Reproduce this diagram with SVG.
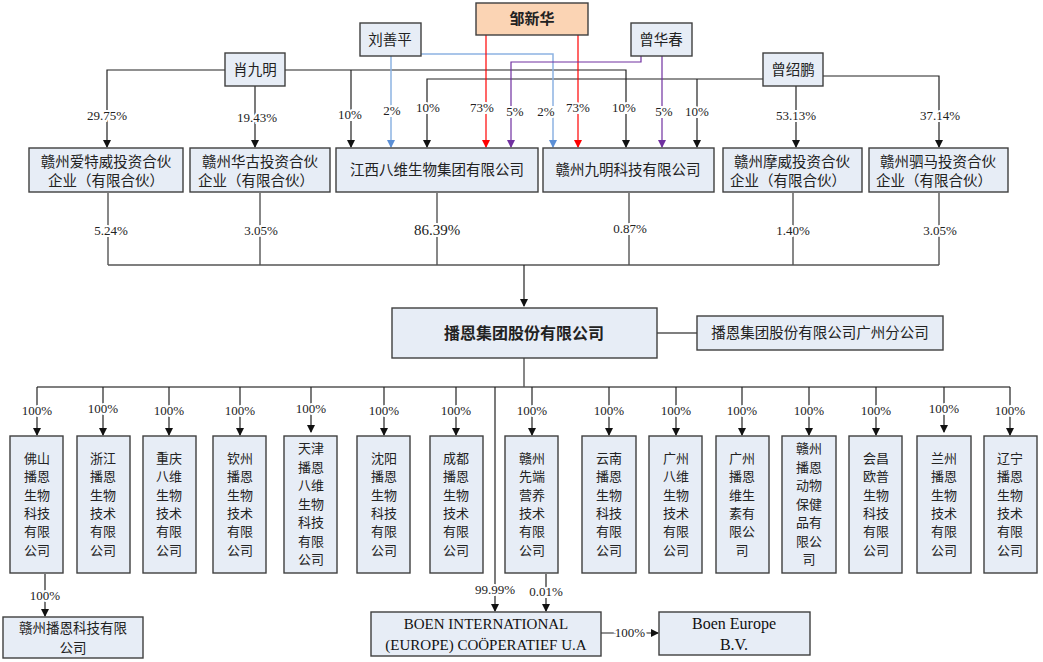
<svg xmlns="http://www.w3.org/2000/svg" width="1043" height="662" viewBox="0 0 1043 662">
<style>
.b{fill:#E7EDF6;stroke:#3F3F3F;stroke-width:1.4}
.t{font-family:"Noto Sans CJK SC",sans-serif;font-size:14.5px;fill:#222;text-anchor:middle}
.v{font-family:"Noto Sans CJK SC",sans-serif;font-size:13px;fill:#222;text-anchor:middle}
.p{font-family:"Liberation Serif",serif;font-size:13px;fill:#222;text-anchor:middle;stroke:#fff;stroke-width:4;paint-order:stroke}
.e{font-family:"Liberation Serif",serif;font-size:15px;fill:#111;text-anchor:middle}
.k{fill:none;stroke:#222;stroke-width:1.2}
.g{fill:none;stroke:#555;stroke-width:1.4}
</style>
<defs>
<marker id="ak" markerWidth="8" markerHeight="8" refX="7" refY="4" orient="auto" markerUnits="userSpaceOnUse"><path d="M0,0 L8,4 L0,8z" fill="#111"/></marker>
<marker id="ab" markerWidth="8" markerHeight="8" refX="7" refY="4" orient="auto" markerUnits="userSpaceOnUse"><path d="M0,0 L8,4 L0,8z" fill="#5B8FD6"/></marker>
<marker id="ar" markerWidth="8" markerHeight="8" refX="7" refY="4" orient="auto" markerUnits="userSpaceOnUse"><path d="M0,0 L8,4 L0,8z" fill="#FF0000"/></marker>
<marker id="ap" markerWidth="8" markerHeight="8" refX="7" refY="4" orient="auto" markerUnits="userSpaceOnUse"><path d="M0,0 L8,4 L0,8z" fill="#7030A0"/></marker>
</defs>
<g id="connectors">
<path class="k" d="M225,70 H107 V147" marker-end="url(#ak)"/>
<path class="k" d="M255,86 V147" marker-end="url(#ak)"/>
<path class="k" d="M285,70 H626 V147" marker-end="url(#ak)"/>
<path class="k" d="M351,70 V147" marker-end="url(#ak)"/>
<path class="k" d="M763,79 H427 V147" marker-end="url(#ak)"/>
<path class="k" d="M697,79 V147" marker-end="url(#ak)"/>
<path class="k" d="M796,86 V147" marker-end="url(#ak)"/>
<path class="k" d="M823,76 H939 V147" marker-end="url(#ak)"/>
<path d="M391,56 V147" stroke="#8DB3E2" stroke-width="1.5" fill="none" marker-end="url(#ab)"/>
<path d="M421,54 H553 V147" stroke="#8DB3E2" stroke-width="1.5" fill="none" marker-end="url(#ab)"/>
<path d="M486,35 V147" stroke="#FF0000" stroke-width="1.2" fill="none" marker-end="url(#ar)"/>
<path d="M578,35 V147" stroke="#FF0000" stroke-width="1.2" fill="none" marker-end="url(#ar)"/>
<path d="M641,56 V62 H511 V147" stroke="#7030A0" stroke-width="1.2" fill="none" marker-end="url(#ap)"/>
<path d="M662,56 V147" stroke="#7030A0" stroke-width="1.2" fill="none" marker-end="url(#ap)"/>
<path class="g" d="M108,193 V265 M260,193 V265 M437,193 V265 M629,193 V265 M793,193 V265 M939,193 V265 M108,265 H939"/>
<path class="k" d="M524,265 V306" marker-end="url(#ak)"/>
<path class="g" d="M657,333 H697"/>
<path class="g" d="M524,358 V387 M37,387 H1010"/>
<g marker-end="url(#ak)" class="k">
<path d="M37,387 V435"/><path d="M103,387 V435"/><path d="M169,387 V435"/><path d="M240,387 V435"/><path d="M311,387 V432"/><path d="M384,387 V435"/><path d="M456,387 V435"/><path d="M532,387 V435"/><path d="M609,387 V435"/><path d="M676,387 V435"/><path d="M742,387 V435"/><path d="M809,387 V435"/><path d="M876,387 V435"/><path d="M944,387 V432"/><path d="M1010,387 V435"/>
<path d="M45,574 V616"/>
<path d="M495,387 V611"/>
<path d="M546,574 V611"/>
<path d="M601,633 H658"/>
</g>
</g>
<g id="labels">
<text class="p" x="107" y="120">29.75%</text>
<text class="p" x="257" y="122">19.43%</text>
<text class="p" x="350" y="119">10%</text>
<text class="p" x="392" y="115">2%</text>
<text class="p" x="428" y="112">10%</text>
<text class="p" x="482" y="112">73%</text>
<text class="p" x="515" y="116">5%</text>
<text class="p" x="546" y="116">2%</text>
<text class="p" x="578" y="112">73%</text>
<text class="p" x="624" y="112">10%</text>
<text class="p" x="664" y="116">5%</text>
<text class="p" x="697" y="116">10%</text>
<text class="p" x="796" y="120">53.13%</text>
<text class="p" x="940" y="120">37.14%</text>
<text class="p" x="111" y="235">5.24%</text>
<text class="p" x="261" y="235">3.05%</text>
<text class="p" x="437" y="235" style="font-size:15px">86.39%</text>
<text class="p" x="630" y="233">0.87%</text>
<text class="p" x="793" y="235">1.40%</text>
<text class="p" x="940" y="235">3.05%</text>
<text class="p" x="37" y="415">100%</text><text class="p" x="103" y="413">100%</text><text class="p" x="169" y="415">100%</text><text class="p" x="240" y="415">100%</text><text class="p" x="311" y="413">100%</text><text class="p" x="384" y="415">100%</text><text class="p" x="456" y="415">100%</text><text class="p" x="532" y="415">100%</text><text class="p" x="609" y="415">100%</text><text class="p" x="676" y="415">100%</text><text class="p" x="742" y="415">100%</text><text class="p" x="809" y="415">100%</text><text class="p" x="876" y="415">100%</text><text class="p" x="944" y="413">100%</text><text class="p" x="1010" y="415">100%</text>
<text class="p" x="45" y="600">100%</text>
<text class="p" x="495" y="594">99.99%</text>
<text class="p" x="546" y="596">0.01%</text>
<text class="p" x="630" y="637">100%</text>
</g>
<g id="n-zou"><rect x="476" y="3" width="112" height="32" fill="#FBD4B4" stroke="#3F3F3F" stroke-width="1.4"/><text class="t" x="532" y="24" style="font-weight:bold;font-size:15px">邹新华</text></g>
<g id="n-liu"><rect class="b" x="360" y="23" width="61" height="33"/><text class="t" x="390" y="45">刘善平</text></g>
<g id="n-zenghc"><rect class="b" x="631" y="23" width="61" height="33"/><text class="t" x="661" y="45">曾华春</text></g>
<g id="n-xiao"><rect class="b" x="225" y="53" width="60" height="33"/><text class="t" x="255" y="75">肖九明</text></g>
<g id="n-zengsp"><rect class="b" x="763" y="53" width="60" height="33"/><text class="t" x="793" y="75">曾绍鹏</text></g>
<g id="n-aitewei"><rect class="b" x="29" y="148" width="154" height="44"/><text class="t" x="106" y="167">赣州爱特威投资合伙</text><text class="t" x="106" y="186">企业（有限合伙）</text></g>
<g id="n-huagu"><rect class="b" x="190" y="148" width="140" height="44"/><text class="t" x="260" y="167">赣州华古投资合伙</text><text class="t" x="256" y="186">企业（有限合伙）</text></g>
<g id="n-bawei"><rect class="b" x="336" y="148" width="202" height="44"/><text class="t" x="437" y="175">江西八维生物集团有限公司</text></g>
<g id="n-jiuming"><rect class="b" x="543" y="148" width="171" height="44"/><text class="t" x="628" y="175">赣州九明科技有限公司</text></g>
<g id="n-mowei"><rect class="b" x="723" y="148" width="139" height="44"/><text class="t" x="792" y="167">赣州摩威投资合伙</text><text class="t" x="788" y="186">企业（有限合伙）</text></g>
<g id="n-sima"><rect class="b" x="869" y="148" width="139" height="44"/><text class="t" x="938" y="167">赣州驷马投资合伙</text><text class="t" x="934" y="186">企业（有限合伙）</text></g>
<g id="n-boen"><rect class="b" x="392" y="308" width="265" height="50"/><text class="t" x="524" y="339" style="font-weight:bold;font-size:16px">播恩集团股份有限公司</text></g>
<g id="n-gz"><rect class="b" x="697" y="316" width="246" height="34"/><text class="t" x="820" y="338">播恩集团股份有限公司广州分公司</text></g>
<g id="n-c1"><rect class="b" x="10" y="436" width="53" height="137"/><text class="v"><tspan x="37" y="463">佛山</tspan><tspan x="37" y="481">播恩</tspan><tspan x="37" y="500">生物</tspan><tspan x="37" y="518">科技</tspan><tspan x="37" y="536">有限</tspan><tspan x="37" y="555">公司</tspan></text></g>
<g id="n-c2"><rect class="b" x="77" y="436" width="53" height="137"/><text class="v"><tspan x="103" y="463">浙江</tspan><tspan x="103" y="481">播恩</tspan><tspan x="103" y="500">生物</tspan><tspan x="103" y="518">技术</tspan><tspan x="103" y="536">有限</tspan><tspan x="103" y="555">公司</tspan></text></g>
<g id="n-c3"><rect class="b" x="143" y="436" width="53" height="137"/><text class="v"><tspan x="169" y="463">重庆</tspan><tspan x="169" y="481">八维</tspan><tspan x="169" y="500">生物</tspan><tspan x="169" y="518">技术</tspan><tspan x="169" y="536">有限</tspan><tspan x="169" y="555">公司</tspan></text></g>
<g id="n-c4"><rect class="b" x="213" y="436" width="53" height="137"/><text class="v"><tspan x="240" y="463">钦州</tspan><tspan x="240" y="481">播恩</tspan><tspan x="240" y="500">生物</tspan><tspan x="240" y="518">技术</tspan><tspan x="240" y="536">有限</tspan><tspan x="240" y="555">公司</tspan></text></g>
<g id="n-c5"><rect class="b" x="284" y="436" width="53" height="137"/><text class="v"><tspan x="311" y="453">天津</tspan><tspan x="311" y="472">播恩</tspan><tspan x="311" y="490">八维</tspan><tspan x="311" y="509">生物</tspan><tspan x="311" y="527">科技</tspan><tspan x="311" y="546">有限</tspan><tspan x="311" y="564">公司</tspan></text></g>
<g id="n-c6"><rect class="b" x="357" y="436" width="53" height="137"/><text class="v"><tspan x="384" y="463">沈阳</tspan><tspan x="384" y="481">播恩</tspan><tspan x="384" y="500">生物</tspan><tspan x="384" y="518">科技</tspan><tspan x="384" y="536">有限</tspan><tspan x="384" y="555">公司</tspan></text></g>
<g id="n-c7"><rect class="b" x="430" y="436" width="53" height="137"/><text class="v"><tspan x="456" y="463">成都</tspan><tspan x="456" y="481">播恩</tspan><tspan x="456" y="500">生物</tspan><tspan x="456" y="518">技术</tspan><tspan x="456" y="536">有限</tspan><tspan x="456" y="555">公司</tspan></text></g>
<g id="n-c8"><rect class="b" x="505" y="436" width="53" height="137"/><text class="v"><tspan x="532" y="463">赣州</tspan><tspan x="532" y="481">先端</tspan><tspan x="532" y="500">营养</tspan><tspan x="532" y="518">技术</tspan><tspan x="532" y="536">有限</tspan><tspan x="532" y="555">公司</tspan></text></g>
<g id="n-c9"><rect class="b" x="582" y="436" width="54" height="137"/><text class="v"><tspan x="609" y="463">云南</tspan><tspan x="609" y="481">播恩</tspan><tspan x="609" y="500">生物</tspan><tspan x="609" y="518">科技</tspan><tspan x="609" y="536">有限</tspan><tspan x="609" y="555">公司</tspan></text></g>
<g id="n-c10"><rect class="b" x="649" y="436" width="53" height="137"/><text class="v"><tspan x="676" y="463">广州</tspan><tspan x="676" y="481">八维</tspan><tspan x="676" y="500">生物</tspan><tspan x="676" y="518">技术</tspan><tspan x="676" y="536">有限</tspan><tspan x="676" y="555">公司</tspan></text></g>
<g id="n-c11"><rect class="b" x="716" y="436" width="53" height="137"/><text class="v"><tspan x="742" y="463">广州</tspan><tspan x="742" y="481">播恩</tspan><tspan x="742" y="500">维生</tspan><tspan x="742" y="518">素有</tspan><tspan x="742" y="536">限公</tspan><tspan x="742" y="555">司</tspan></text></g>
<g id="n-c12"><rect class="b" x="782" y="436" width="54" height="137"/><text class="v"><tspan x="809" y="453">赣州</tspan><tspan x="809" y="472">播恩</tspan><tspan x="809" y="490">动物</tspan><tspan x="809" y="509">保健</tspan><tspan x="809" y="527">品有</tspan><tspan x="809" y="546">限公</tspan><tspan x="809" y="564">司</tspan></text></g>
<g id="n-c13"><rect class="b" x="849" y="436" width="53" height="137"/><text class="v"><tspan x="876" y="463">会昌</tspan><tspan x="876" y="481">欧普</tspan><tspan x="876" y="500">生物</tspan><tspan x="876" y="518">科技</tspan><tspan x="876" y="536">有限</tspan><tspan x="876" y="555">公司</tspan></text></g>
<g id="n-c14"><rect class="b" x="917" y="436" width="54" height="137"/><text class="v"><tspan x="944" y="463">兰州</tspan><tspan x="944" y="481">播恩</tspan><tspan x="944" y="500">生物</tspan><tspan x="944" y="518">技术</tspan><tspan x="944" y="536">有限</tspan><tspan x="944" y="555">公司</tspan></text></g>
<g id="n-c15"><rect class="b" x="984" y="436" width="53" height="137"/><text class="v"><tspan x="1010" y="463">辽宁</tspan><tspan x="1010" y="481">播恩</tspan><tspan x="1010" y="500">生物</tspan><tspan x="1010" y="518">技术</tspan><tspan x="1010" y="536">有限</tspan><tspan x="1010" y="555">公司</tspan></text></g>
<g id="n-gzbe"><rect class="b" x="3" y="617" width="140" height="41"/><text class="t" x="73" y="633" style="font-size:13.5px">赣州播恩科技有限</text><text class="t" x="73" y="653" style="font-size:13.5px">公司</text></g>
<g id="n-boenint"><rect class="b" x="371" y="612" width="230" height="44"/><text class="e" x="486" y="629">BOEN INTERNATIONAL</text><text class="e" x="486" y="650">(EUROPE) COÖPERATIEF U.A</text></g>
<g id="n-boeneu"><rect class="b" x="659" y="612" width="151" height="43"/><text class="e" x="734" y="629" style="font-size:16px">Boen Europe</text><text class="e" x="734" y="650" style="font-size:16px">B.V.</text></g>
</svg>
